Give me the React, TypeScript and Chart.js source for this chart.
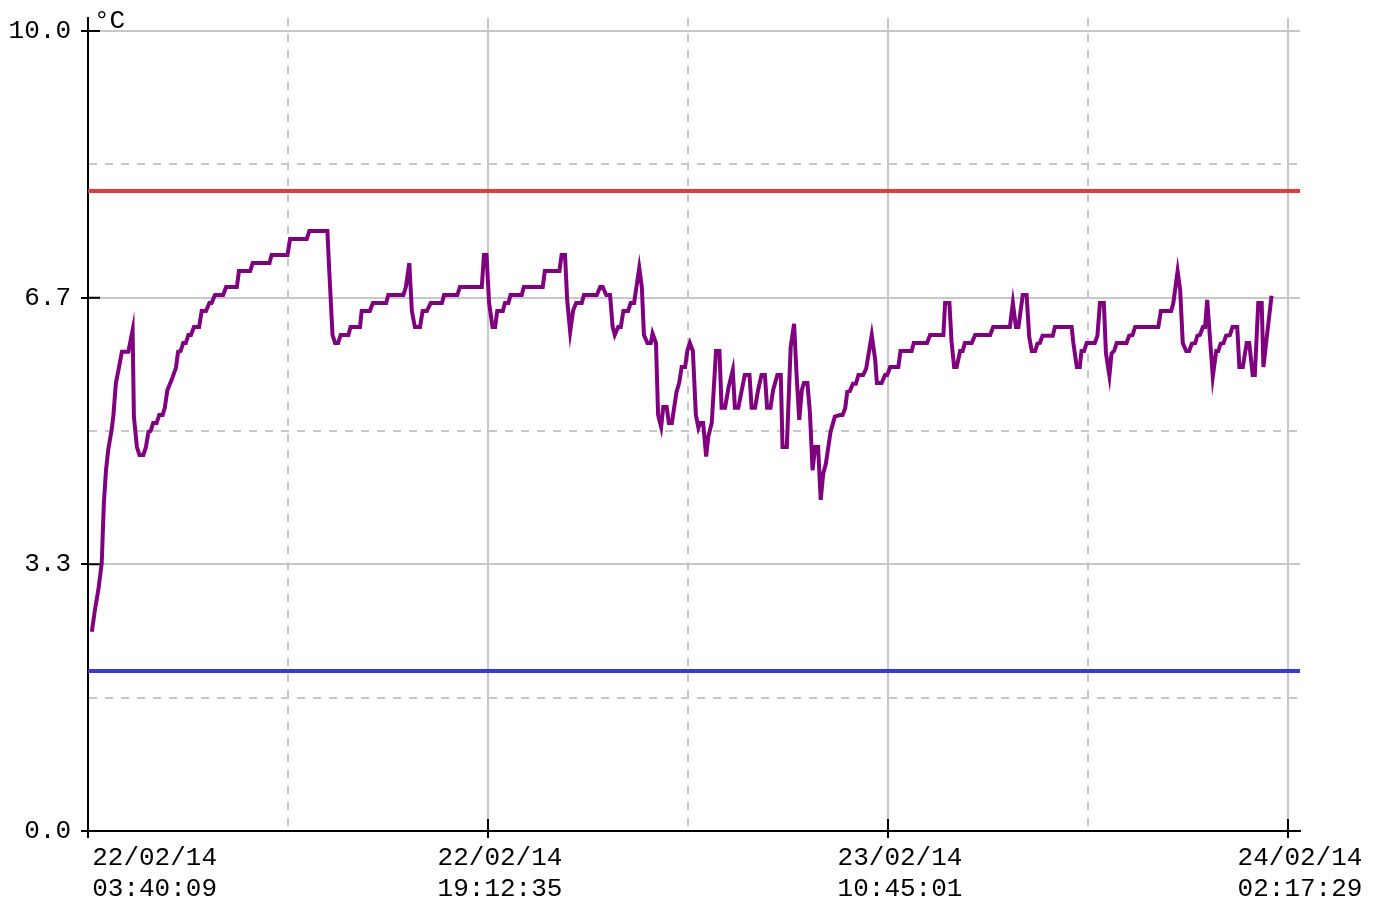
import React, { useEffect, useRef } from 'react';
import { Chart, registerables } from 'chart.js';

Chart.register(...registerables);

// ---- Data ----
const tickDates = ['22/02/14', '22/02/14', '23/02/14', '24/02/14'];
const tickTimes = ['03:40:09', '19:12:35', '10:45:01', '02:17:29'];
const TICK_STEP_MIN = 932.43; // 15h32m26s between labelled ticks
const X_MAX = 2825.3; // minutes since start, right edge of the plot
const yTickLabels = ['0.0', '3.3', '6.7', '10.0'];
const Y_MAX = 10.1625;
const unitLabel = '°C';
const upperLimit = 8.0;
const lowerLimit = 2.0;

// minutes since 22/02/14 03:40:09
const minutes = [
  9, 16, 24, 32, 37, 42, 47, 55, 59, 65, 71, 79, 94, 104, 107, 114, 120, 129, 135, 141,
  146, 152, 160, 166, 174, 179, 185, 195, 205, 210, 216, 222, 228, 234, 240, 247, 259, 265, 275, 283,
  288, 296, 315, 322, 347, 352, 378, 384, 423, 428, 465, 471, 510, 516, 558, 562, 570, 576, 583, 589,
  607, 612, 634, 638, 657, 664, 695, 700, 735, 741, 749, 755, 762, 774, 780, 790, 799, 825, 830, 861,
  867, 918, 923, 929, 935, 943, 949, 954, 967, 972, 980, 985, 1011, 1016, 1060, 1065, 1099, 1104, 1112, 1117,
  1124, 1131, 1138, 1151, 1156, 1186, 1194, 1200, 1208, 1217, 1223, 1228, 1236, 1242, 1248, 1259, 1265, 1273, 1285, 1291,
  1296, 1304, 1312, 1316, 1324, 1329, 1336, 1341, 1349, 1354, 1361, 1372, 1378, 1384, 1392, 1397, 1403, 1410, 1417, 1423,
  1427, 1434, 1441, 1446, 1454, 1464, 1472, 1477, 1485, 1493, 1503, 1508, 1516, 1524, 1531, 1542, 1547, 1555, 1562, 1570,
  1578, 1583, 1591, 1597, 1607, 1615, 1619, 1629, 1638, 1646, 1652, 1658, 1664, 1669, 1677, 1683, 1689, 1695, 1702, 1708,
  1714, 1720, 1731, 1741, 1753, 1759, 1765, 1770, 1776, 1783, 1790, 1796, 1807, 1814, 1827, 1835, 1839, 1850, 1858, 1863,
  1870, 1889, 1894, 1920, 1925, 1956, 1963, 1994, 1998, 2008, 2013, 2019, 2025, 2033, 2039, 2044, 2060, 2068, 2103, 2110,
  2149, 2156, 2163, 2169, 2179, 2188, 2194, 2200, 2208, 2213, 2219, 2225, 2249, 2254, 2293, 2297, 2305, 2312, 2316, 2322,
  2328, 2347, 2353, 2359, 2368, 2373, 2381, 2386, 2392, 2398, 2421, 2427, 2435, 2441, 2495, 2501, 2525, 2530, 2540, 2546,
  2552, 2560, 2567, 2573, 2581, 2586, 2592, 2599, 2604, 2609, 2616, 2622, 2630, 2635, 2640, 2647, 2653, 2662, 2668, 2679,
  2684, 2692, 2701, 2707, 2715, 2720, 2728, 2736, 2740, 2748, 2759,
];

const temps = [
  2.49, 2.76, 3.01, 3.35, 4.1, 4.51, 4.76, 5.01, 5.18, 5.6, 5.76, 5.99, 5.99, 6.26, 5.18, 4.8, 4.7, 4.7, 4.8, 4.99,
  5.0, 5.1, 5.1, 5.2, 5.2, 5.29, 5.51, 5.64, 5.79, 5.99, 6.0, 6.1, 6.1, 6.2, 6.2, 6.3, 6.3, 6.5, 6.5, 6.6,
  6.6, 6.7, 6.7, 6.8, 6.8, 7.0, 7.0, 7.1, 7.1, 7.2, 7.2, 7.4, 7.4, 7.5, 7.5, 7.05, 6.2, 6.1, 6.1, 6.2,
  6.2, 6.3, 6.3, 6.5, 6.5, 6.6, 6.6, 6.7, 6.7, 6.8, 7.1, 6.5, 6.3, 6.3, 6.5, 6.5, 6.6, 6.6, 6.7, 6.7,
  6.8, 6.8, 7.2, 7.2, 6.6, 6.3, 6.3, 6.5, 6.5, 6.6, 6.6, 6.7, 6.7, 6.8, 6.8, 7.0, 7.0, 7.2, 7.2, 6.64,
  6.24, 6.51, 6.6, 6.6, 6.7, 6.7, 6.8, 6.8, 6.7, 6.7, 6.3, 6.2, 6.3, 6.3, 6.5, 6.5, 6.6, 6.6, 7.04, 6.8,
  6.2, 6.1, 6.1, 6.22, 6.1, 5.2, 5.05, 5.3, 5.3, 5.1, 5.1, 5.49, 5.6, 5.8, 5.8, 6.0, 6.1, 6.0, 5.2, 5.04,
  5.1, 5.1, 4.68, 4.93, 5.1, 6.0, 6.0, 5.29, 5.29, 5.54, 5.76, 5.29, 5.29, 5.51, 5.7, 5.7, 5.29, 5.29, 5.51, 5.7,
  5.7, 5.29, 5.29, 5.51, 5.7, 5.7, 4.8, 4.8, 6.05, 6.34, 5.68, 5.14, 5.51, 5.6, 5.6, 5.22, 4.51, 4.8, 4.8, 4.14,
  4.47, 4.59, 4.99, 5.18, 5.2, 5.2, 5.28, 5.49, 5.5, 5.59, 5.59, 5.7, 5.7, 5.78, 6.2, 5.89, 5.6, 5.6, 5.7, 5.7,
  5.8, 5.8, 6.0, 6.0, 6.1, 6.1, 6.2, 6.2, 6.6, 6.6, 6.12, 5.8, 5.8, 6.0, 6.0, 6.1, 6.1, 6.2, 6.2, 6.3,
  6.3, 6.6, 6.3, 6.3, 6.7, 6.7, 6.18, 6.0, 6.0, 6.09, 6.1, 6.19, 6.19, 6.3, 6.3, 6.1, 5.8, 5.8, 6.0, 6.0,
  6.1, 6.1, 6.19, 6.6, 6.6, 5.97, 5.69, 5.97, 6.0, 6.1, 6.1, 6.19, 6.2, 6.3, 6.3, 6.5, 6.5, 6.6, 7.0, 6.76,
  6.1, 6.0, 6.0, 6.09, 6.1, 6.19, 6.2, 6.3, 6.3, 6.64, 6.12, 5.68, 6.0, 6.0, 6.09, 6.1, 6.19, 6.2, 6.3, 6.3,
  5.8, 5.8, 6.1, 6.1, 5.7, 5.7, 6.6, 6.6, 5.8, 6.18, 6.69,
];

const FONT = '"Liberation Mono", "DejaVu Sans Mono", monospace';
const FONT_SIZE = 26;
const GRID = '#c8c8c8';

const isMajor = (ctx: any) => ctx.index % 2 === 0;

const innerTicks = {
  id: 'innerTicks',
  beforeDatasetsDraw(chart: any) {
    const { ctx, chartArea, scales } = chart;
    ctx.save();
    ctx.strokeStyle = '#000';
    ctx.lineWidth = 2;
    ctx.beginPath();
    scales.x.ticks.forEach((t: any, i: number) => {
      if (i % 2) return;
      const px = scales.x.getPixelForValue(t.value);
      ctx.moveTo(px, chartArea.bottom);
      ctx.lineTo(px, chartArea.bottom - 12);
    });
    scales.y.ticks.forEach((t: any, i: number) => {
      if (i % 2) return;
      const py = scales.y.getPixelForValue(t.value);
      ctx.moveTo(chartArea.left, py);
      ctx.lineTo(chartArea.left + 12, py);
    });
    ctx.stroke();
    ctx.restore();
  },
};

const unitPlugin = {
  id: 'unitLabel',
  afterDraw(chart: any) {
    const { ctx, chartArea } = chart;
    ctx.save();
    ctx.font = `${FONT_SIZE}px ${FONT}`;
    ctx.fillStyle = '#000';
    ctx.textAlign = 'left';
    ctx.textBaseline = 'alphabetic';
    ctx.fillText(unitLabel, chartArea.left + 6, chartArea.top + 10);
    ctx.restore();
  },
};

export default function App() {
  const ref = useRef<HTMLCanvasElement | null>(null);

  useEffect(() => {
    if (!ref.current) return;
    const chart = new Chart(ref.current, {
      type: 'line',
      data: {
        datasets: [
          {
            data: minutes.map((m, i) => ({ x: m, y: temps[i] })),
            borderColor: '#800080',
            borderWidth: 4,
            pointRadius: 0,
            tension: 0,
            fill: false,
          },
          {
            data: [{ x: 0, y: upperLimit }, { x: X_MAX, y: upperLimit }],
            borderColor: '#e3393c',
            borderWidth: 4,
            pointRadius: 0,
            fill: false,
          },
          {
            data: [{ x: 0, y: lowerLimit }, { x: X_MAX, y: lowerLimit }],
            borderColor: '#3838e0',
            borderWidth: 4,
            pointRadius: 0,
            fill: false,
          },
        ],
      },
      options: {
        responsive: false,
        animation: false,
        events: [],
        layout: { padding: { top: 18, right: 82, bottom: 0, left: 0 } },
        plugins: { legend: { display: false }, tooltip: { enabled: false }, title: { display: false } },
        scales: {
          x: {
            type: 'linear',
            position: 'bottom',
            min: 0,
            max: X_MAX,
            afterBuildTicks: (scale: any) => {
              scale.ticks = [0, 1, 2, 3, 4, 5, 6].map((k) => ({ value: (k * TICK_STEP_MIN) / 2 }));
            },
            afterFit: (scale: any) => {
              scale.height = 70;
              scale.paddingLeft = 0;
              scale.paddingRight = 0;
            },
            ticks: {
              autoSkip: false,
              maxRotation: 0,
              minRotation: 0,
              padding: 5,
              labelOffset: 12,
              color: '#000',
              font: { family: FONT, size: FONT_SIZE, lineHeight: 1.17 },
              callback: (_v: any, index: number) => {
                if (index % 2) return '';
                const k = index / 2;
                const pad = k === 0 ? '       ' : '';
                return [pad + tickDates[k], pad + tickTimes[k]];
              },
            },
            grid: {
              color: GRID,
              lineWidth: 2,
              drawTicks: true,
              tickLength: 7,
              tickWidth: 2,
              tickColor: (ctx: any) => (isMajor(ctx) ? '#000' : 'rgba(0,0,0,0)'),
            },
            border: {
              display: true,
              color: '#000',
              width: 2,
              dash: (ctx: any) => (ctx.tick && ctx.index % 2 === 1 ? [8, 8] : []),
            },
          },
          y: {
            type: 'linear',
            position: 'left',
            min: 0,
            max: Y_MAX,
            afterBuildTicks: (scale: any) => {
              scale.ticks = [0, 1, 2, 3, 4, 5, 6].map((k) => ({ value: (k * 10) / 6 }));
            },
            afterFit: (scale: any) => {
              scale.width = 88;
              scale.paddingTop = 0;
              scale.paddingBottom = 0;
            },
            ticks: {
              autoSkip: false,
              padding: 10,
              color: '#000',
              font: { family: FONT, size: FONT_SIZE },
              callback: (_v: any, index: number) => (index % 2 ? '' : yTickLabels[index / 2]),
            },
            grid: {
              color: GRID,
              lineWidth: 2,
              drawTicks: true,
              tickLength: 7,
              tickWidth: 2,
              tickColor: (ctx: any) => (isMajor(ctx) ? '#000' : 'rgba(0,0,0,0)'),
            },
            border: {
              display: true,
              color: '#000',
              width: 2,
              dash: (ctx: any) => (ctx.tick && ctx.index % 2 === 1 ? [8, 8] : []),
            },
          },
        },
      } as any,
      plugins: [innerTicks, unitPlugin],
    });
    return () => chart.destroy();
  }, []);

  return (
    <div style={{ position: 'absolute', left: 0, top: 0, width: 1382, height: 901, background: '#fff' }}>
      <canvas ref={ref} width={1382} height={901} style={{ display: 'block' }} />
    </div>
  );
}
